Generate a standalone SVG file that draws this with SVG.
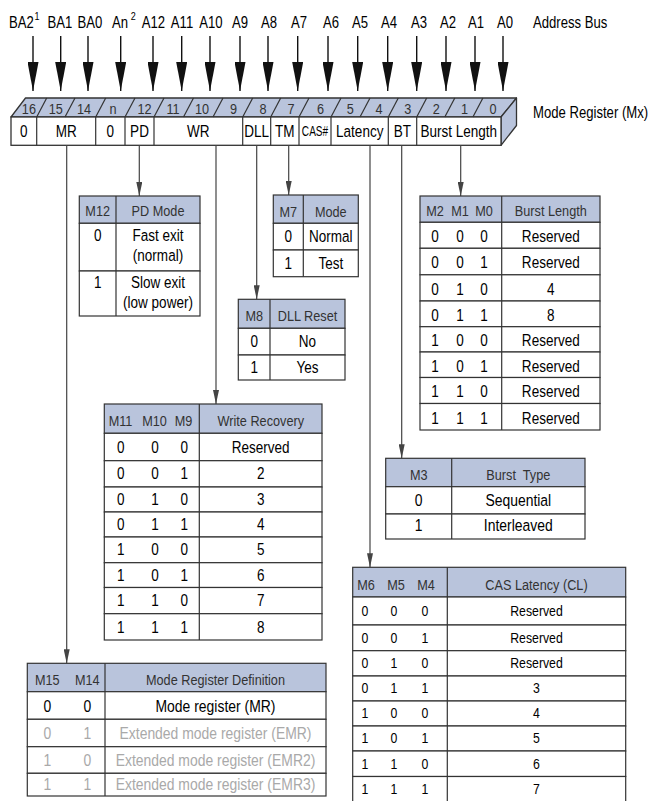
<svg xmlns="http://www.w3.org/2000/svg" width="659" height="801" viewBox="0 0 659 801">
<style>
text{font-family:"Liberation Sans",Arial,sans-serif;text-anchor:middle;transform-box:fill-box;transform-origin:center;transform:scaleX(.82)}
.addr{font-size:16px;fill:#000}
.sup{font-size:11px;fill:#000}
.lbl{font-size:16px;fill:#000;text-anchor:start;transform-origin:left center}
.bit{font-size:15.5px;fill:#333}
.fc{font-size:16.5px;fill:#000}
.cas{font-size:14px;fill:#000;transform:scaleX(.72)}
.h{font-size:15.5px;fill:#333}
.b{font-size:16.5px;fill:#000}
.b17{font-size:17px;fill:#000}
.c15{font-size:15px;fill:#000}
.gr{fill:#a9a9a9}
.hdr{fill:#b9c4dc;stroke:#333;stroke-width:1.2}
.row{fill:#fff;stroke:#333;stroke-width:1.2}
.div{stroke:#333;stroke-width:1.2}
.blue{fill:#b9c4dc;stroke:#333;stroke-width:1.3;stroke-linejoin:round}
.front{fill:#fff;stroke:#333;stroke-width:1.3}
.bus{stroke:#111;stroke-width:1.4;marker-end:url(#big)}
.con{stroke:#444;stroke-width:1.2;fill:none;marker-end:url(#small)}
</style>
<defs>
<marker id="big" markerUnits="userSpaceOnUse" markerWidth="29" markerHeight="11" viewBox="0 0 29 11" refX="29" refY="5.5" orient="auto"><path d="M0,0 L29,5.5 L0,11 z" fill="#111"/></marker>
<marker id="small" markerUnits="userSpaceOnUse" markerWidth="14" markerHeight="6" viewBox="0 0 14 6" refX="14" refY="3" orient="auto"><path d="M0,0 L14,3 L0,6 z" fill="#444"/></marker>
</defs>

<g id="address-bus">
<text class="addr" x="21.5" y="28.3">BA2</text><text class="sup" x="37" y="20.5">1</text>
<text class="addr" x="60" y="28.3">BA1</text>
<text class="addr" x="90" y="28.3">BA0</text>
<text class="addr" x="120" y="28.3">An</text><text class="sup" x="133.3" y="20.5">2</text>
<text class="addr" x="153.5" y="28.3">A12</text>
<text class="addr" x="182" y="28.3">A11</text>
<text class="addr" x="211" y="28.3">A10</text>
<text class="addr" x="240" y="28.3">A9</text>
<text class="addr" x="269" y="28.3">A8</text>
<text class="addr" x="299" y="28.3">A7</text>
<text class="addr" x="331" y="28.3">A6</text>
<text class="addr" x="360" y="28.3">A5</text>
<text class="addr" x="389" y="28.3">A4</text>
<text class="addr" x="419" y="28.3">A3</text>
<text class="addr" x="448" y="28.3">A2</text>
<text class="addr" x="476" y="28.3">A1</text>
<text class="addr" x="505" y="28.3">A0</text>
<text class="lbl" x="533" y="28.3">Address Bus</text>
</g>

<g id="bus-arrows">
<line class="bus" x1="33" y1="36" x2="33" y2="91"/>
<line class="bus" x1="60.7" y1="36" x2="60.7" y2="91"/>
<line class="bus" x1="88" y1="36" x2="88" y2="91"/>
<line class="bus" x1="120.7" y1="36" x2="120.7" y2="91"/>
<line class="bus" x1="153" y1="36" x2="153" y2="91"/>
<line class="bus" x1="181.7" y1="36" x2="181.7" y2="91"/>
<line class="bus" x1="210" y1="36" x2="210" y2="91"/>
<line class="bus" x1="240" y1="36" x2="240" y2="91"/>
<line class="bus" x1="268" y1="36" x2="268" y2="91"/>
<line class="bus" x1="297.7" y1="36" x2="297.7" y2="91"/>
<line class="bus" x1="328" y1="36" x2="328" y2="91"/>
<line class="bus" x1="357.7" y1="36" x2="357.7" y2="91"/>
<line class="bus" x1="387.7" y1="36" x2="387.7" y2="91"/>
<line class="bus" x1="416.7" y1="36" x2="416.7" y2="91"/>
<line class="bus" x1="446" y1="36" x2="446" y2="91"/>
<line class="bus" x1="475" y1="36" x2="475" y2="91"/>
<line class="bus" x1="503" y1="36" x2="503" y2="91"/>
</g>

<g id="mode-register">
<polygon class="blue" points="11,117 25.5,98 516.5,98 501,117"/>
<polygon class="blue" points="501,117 516.5,98 516.5,125.5 501,145.3"/>
<rect class="front" x="11" y="117" width="490" height="28.3"/>
<g class="div">
<line x1="36.7" y1="117" x2="46.7" y2="98"/>
<line x1="65" y1="117" x2="75" y2="98"/>
<line x1="95.7" y1="117" x2="105.7" y2="98"/>
<line x1="125" y1="117" x2="135" y2="98"/>
<line x1="154" y1="117" x2="164" y2="98"/>
<line x1="183.5" y1="117" x2="193.5" y2="98"/>
<line x1="213" y1="117" x2="223" y2="98"/>
<line x1="242.7" y1="117" x2="252.7" y2="98"/>
<line x1="270.7" y1="117" x2="280.7" y2="98"/>
<line x1="299" y1="117" x2="309" y2="98"/>
<line x1="331" y1="117" x2="341" y2="98"/>
<line x1="360" y1="117" x2="370" y2="98"/>
<line x1="388.3" y1="117" x2="398.3" y2="98"/>
<line x1="416.7" y1="117" x2="426.7" y2="98"/>
<line x1="444.8" y1="117" x2="454.8" y2="98"/>
<line x1="472.9" y1="117" x2="482.9" y2="98"/>
<line x1="36.7" y1="117" x2="36.7" y2="145.3"/>
<line x1="95.7" y1="117" x2="95.7" y2="145.3"/>
<line x1="125" y1="117" x2="125" y2="145.3"/>
<line x1="154" y1="117" x2="154" y2="145.3"/>
<line x1="242.7" y1="117" x2="242.7" y2="145.3"/>
<line x1="270.7" y1="117" x2="270.7" y2="145.3"/>
<line x1="299" y1="117" x2="299" y2="145.3"/>
<line x1="331" y1="117" x2="331" y2="145.3"/>
<line x1="388.3" y1="117" x2="388.3" y2="145.3"/>
<line x1="416.7" y1="117" x2="416.7" y2="145.3"/>
</g>
<text class="bit" x="28.9" y="114.5">16</text>
<text class="bit" x="55.8" y="114.5">15</text>
<text class="bit" x="84" y="114.5">14</text>
<text class="bit" x="113" y="114.5">n</text>
<text class="bit" x="144.5" y="114.5">12</text>
<text class="bit" x="173" y="114.5">11</text>
<text class="bit" x="202" y="114.5">10</text>
<text class="bit" x="233.5" y="114.5">9</text>
<text class="bit" x="263" y="114.5">8</text>
<text class="bit" x="291" y="114.5">7</text>
<text class="bit" x="320.5" y="114.5">6</text>
<text class="bit" x="350.3" y="114.5">5</text>
<text class="bit" x="379" y="114.5">4</text>
<text class="bit" x="407.7" y="114.5">3</text>
<text class="bit" x="436.2" y="114.5">2</text>
<text class="bit" x="464.5" y="114.5">1</text>
<text class="bit" x="493" y="114.5">0</text>
<text class="fc" x="23.8" y="137.5">0</text>
<text class="fc" x="66.2" y="137.5">MR</text>
<text class="fc" x="110.3" y="137.5">0</text>
<text class="fc" x="139.5" y="137.5">PD</text>
<text class="fc" x="198.3" y="137.5">WR</text>
<text class="fc" x="256.7" y="137.5">DLL</text>
<text class="fc" x="284.8" y="137.5">TM</text>
<text class="cas" x="315" y="136.5">CAS#</text>
<text class="fc" x="359.7" y="137.5">Latency</text>
<text class="fc" x="402.5" y="137.5">BT</text>
<text class="fc" x="458.8" y="137.5">Burst Length</text>
<text class="lbl" x="533" y="118.5">Mode Register (Mx)</text>
</g>

<g id="connectors">
<line class="con" x1="66.7" y1="145.3" x2="66.7" y2="663.3"/>
<line class="con" x1="139.3" y1="145.3" x2="139.3" y2="196"/>
<line class="con" x1="216" y1="145.3" x2="216" y2="404"/>
<line class="con" x1="256.7" y1="145.3" x2="256.7" y2="299.3"/>
<line class="con" x1="288.7" y1="145.3" x2="288.7" y2="195"/>
<line class="con" x1="370" y1="145.3" x2="370" y2="567.3"/>
<line class="con" x1="401.7" y1="145.3" x2="401.7" y2="458.3"/>
<line class="con" x1="460.7" y1="145.3" x2="460.7" y2="196"/>
</g>

<g id="pd-mode-table">
<rect class="hdr" x="79.3" y="196" width="120.7" height="27.3"/>
<rect class="row" x="79.3" y="223.3" width="120.7" height="47.7"/>
<rect class="row" x="79.3" y="271" width="120.7" height="45"/>
<line class="div" x1="116" y1="196" x2="116" y2="316"/>
<text class="h" x="97.7" y="216.5">M12</text><text class="h" x="158" y="216.5">PD Mode</text>
<text class="b" x="97.7" y="241">0</text><text class="b" x="158" y="241">Fast exit</text><text class="b" x="158" y="261">(normal)</text>
<text class="b" x="97.7" y="288.5">1</text><text class="b" x="158" y="288.5">Slow exit</text><text class="b" x="158" y="308">(low power)</text>
</g>

<g id="tm-table">
<rect class="hdr" x="273.3" y="195" width="85" height="28.3"/>
<rect class="row" x="273.3" y="223.3" width="85" height="26.7"/>
<rect class="row" x="273.3" y="250" width="85" height="26.7"/>
<line class="div" x1="303.3" y1="195" x2="303.3" y2="276.7"/>
<text class="h" x="288.3" y="217">M7</text><text class="h" x="330.8" y="217">Mode</text>
<text class="b" x="288.3" y="242.5">0</text><text class="b" x="330.8" y="242.5">Normal</text>
<text class="b" x="288.3" y="269">1</text><text class="b" x="330.8" y="269">Test</text>
</g>

<g id="dll-table">
<rect class="hdr" x="238.3" y="299.3" width="106.7" height="29"/>
<rect class="row" x="238.3" y="328.3" width="106.7" height="26.7"/>
<rect class="row" x="238.3" y="355" width="106.7" height="25"/>
<line class="div" x1="270" y1="299.3" x2="270" y2="380"/>
<text class="h" x="254.2" y="321.5">M8</text><text class="h" x="307.5" y="321.5">DLL Reset</text>
<text class="b" x="254.2" y="347">0</text><text class="b" x="307.5" y="347">No</text>
<text class="b" x="254.2" y="373">1</text><text class="b" x="307.5" y="373">Yes</text>
</g>

<g id="burst-length-table">
<rect class="hdr" x="420" y="196" width="180" height="26.3"/>
<rect class="row" x="420" y="222.3" width="180" height="26"/>
<rect class="row" x="420" y="248.3" width="180" height="26.5"/>
<rect class="row" x="420" y="274.8" width="180" height="26.2"/>
<rect class="row" x="420" y="301" width="180" height="25.7"/>
<rect class="row" x="420" y="326.7" width="180" height="25.3"/>
<rect class="row" x="420" y="352" width="180" height="25.5"/>
<rect class="row" x="420" y="377.5" width="180" height="26"/>
<rect class="row" x="420" y="403.5" width="180" height="26.5"/>
<line class="div" x1="501.7" y1="196" x2="501.7" y2="430"/>
<text class="h" x="435" y="216">M2</text><text class="h" x="460" y="216">M1</text><text class="h" x="484" y="216">M0</text><text class="h" x="550.8" y="216">Burst Length</text>
<g class="b">
<text x="435" y="242.3">0</text><text x="460" y="242.3">0</text><text x="484" y="242.3">0</text><text x="550.8" y="242.3">Reserved</text>
<text x="435" y="268.5">0</text><text x="460" y="268.5">0</text><text x="484" y="268.5">1</text><text x="550.8" y="268.5">Reserved</text>
<text x="435" y="295">0</text><text x="460" y="295">1</text><text x="484" y="295">0</text><text x="550.8" y="295">4</text>
<text x="435" y="321">0</text><text x="460" y="321">1</text><text x="484" y="321">1</text><text x="550.8" y="321">8</text>
<text x="435" y="346.5">1</text><text x="460" y="346.5">0</text><text x="484" y="346.5">0</text><text x="550.8" y="346.5">Reserved</text>
<text x="435" y="372">1</text><text x="460" y="372">0</text><text x="484" y="372">1</text><text x="550.8" y="372">Reserved</text>
<text x="435" y="397.5">1</text><text x="460" y="397.5">1</text><text x="484" y="397.5">0</text><text x="550.8" y="397.5">Reserved</text>
<text x="435" y="424">1</text><text x="460" y="424">1</text><text x="484" y="424">1</text><text x="550.8" y="424">Reserved</text>
</g>
</g>

<g id="write-recovery-table">
<rect class="hdr" x="104.3" y="404" width="217.7" height="29.3"/>
<rect class="row" x="104.3" y="433.3" width="217.7" height="27.4"/>
<rect class="row" x="104.3" y="460.7" width="217.7" height="26.3"/>
<rect class="row" x="104.3" y="487" width="217.7" height="25"/>
<rect class="row" x="104.3" y="512" width="217.7" height="25"/>
<rect class="row" x="104.3" y="537" width="217.7" height="25.7"/>
<rect class="row" x="104.3" y="562.7" width="217.7" height="24.8"/>
<rect class="row" x="104.3" y="587.5" width="217.7" height="26.2"/>
<rect class="row" x="104.3" y="613.7" width="217.7" height="26.3"/>
<line class="div" x1="199.3" y1="404" x2="199.3" y2="640"/>
<text class="h" x="120.5" y="426.5">M11</text><text class="h" x="154.5" y="426.5">M10</text><text class="h" x="183.5" y="426.5">M9</text><text class="h" x="260.7" y="426.5">Write Recovery</text>
<g class="b">
<text x="120.7" y="453">0</text><text x="155" y="453">0</text><text x="184.3" y="453">0</text><text x="260.7" y="453">Reserved</text>
<text x="120.7" y="479.5">0</text><text x="155" y="479.5">0</text><text x="184.3" y="479.5">1</text><text x="260.7" y="479.5">2</text>
<text x="120.7" y="505">0</text><text x="155" y="505">1</text><text x="184.3" y="505">0</text><text x="260.7" y="505">3</text>
<text x="120.7" y="530">0</text><text x="155" y="530">1</text><text x="184.3" y="530">1</text><text x="260.7" y="530">4</text>
<text x="120.7" y="555.5">1</text><text x="155" y="555.5">0</text><text x="184.3" y="555.5">0</text><text x="260.7" y="555.5">5</text>
<text x="120.7" y="581">1</text><text x="155" y="581">0</text><text x="184.3" y="581">1</text><text x="260.7" y="581">6</text>
<text x="120.7" y="606.5">1</text><text x="155" y="606.5">1</text><text x="184.3" y="606.5">0</text><text x="260.7" y="606.5">7</text>
<text x="120.7" y="633">1</text><text x="155" y="633">1</text><text x="184.3" y="633">1</text><text x="260.7" y="633">8</text>
</g>
</g>

<g id="burst-type-table">
<rect class="hdr" x="385.7" y="458.3" width="199.3" height="28.4"/>
<rect class="row" x="385.7" y="486.7" width="199.3" height="27.3"/>
<rect class="row" x="385.7" y="514" width="199.3" height="25"/>
<line class="div" x1="451.7" y1="458.3" x2="451.7" y2="539"/>
<text class="h" x="418.7" y="480">M3</text><text class="h" x="518.3" y="480" xml:space="preserve">Burst  Type</text>
<text class="b17" x="418.7" y="506">0</text><text class="b17" x="518.3" y="506">Sequential</text>
<text class="b17" x="418.7" y="531.5">1</text><text class="b17" x="518.3" y="531.5">Interleaved</text>
</g>

<g id="cas-latency-table">
<rect class="hdr" x="352.7" y="567.3" width="273" height="29.7"/>
<rect class="row" x="352.7" y="597" width="273" height="28"/>
<rect class="row" x="352.7" y="625" width="273" height="25.7"/>
<rect class="row" x="352.7" y="650.7" width="273" height="25.3"/>
<rect class="row" x="352.7" y="676" width="273" height="25"/>
<rect class="row" x="352.7" y="701" width="273" height="25"/>
<rect class="row" x="352.7" y="726" width="273" height="25"/>
<rect class="row" x="352.7" y="751" width="273" height="25.5"/>
<rect class="row" x="352.7" y="776.5" width="273" height="25.5"/>
<line class="div" x1="447.3" y1="567.3" x2="447.3" y2="802"/>
<text class="h" x="366" y="590">M6</text><text class="h" x="396" y="590">M5</text><text class="h" x="426" y="590">M4</text><text class="h" x="536.5" y="590">CAS Latency (CL)</text>
<g class="c15">
<text x="365" y="616.5">0</text><text x="394" y="616.5">0</text><text x="425" y="616.5">0</text><text x="536.5" y="616.5">Reserved</text>
<text x="365" y="643">0</text><text x="394" y="643">0</text><text x="425" y="643">1</text><text x="536.5" y="643">Reserved</text>
<text x="365" y="668.5">0</text><text x="394" y="668.5">1</text><text x="425" y="668.5">0</text><text x="536.5" y="668.5">Reserved</text>
<text x="365" y="693.5">0</text><text x="394" y="693.5">1</text><text x="425" y="693.5">1</text><text x="536.5" y="693.5">3</text>
<text x="365" y="718.5">1</text><text x="394" y="718.5">0</text><text x="425" y="718.5">0</text><text x="536.5" y="718.5">4</text>
<text x="365" y="743.5">1</text><text x="394" y="743.5">0</text><text x="425" y="743.5">1</text><text x="536.5" y="743.5">5</text>
<text x="365" y="769">1</text><text x="394" y="769">1</text><text x="425" y="769">0</text><text x="536.5" y="769">6</text>
<text x="365" y="794.5">1</text><text x="394" y="794.5">1</text><text x="425" y="794.5">1</text><text x="536.5" y="794.5">7</text>
</g>
</g>

<g id="mode-register-definition-table">
<rect class="hdr" x="27.3" y="663.3" width="298.7" height="28.4"/>
<rect class="row" x="27.3" y="691.7" width="298.7" height="27.6"/>
<rect class="row" x="27.3" y="719.3" width="298.7" height="27.4"/>
<rect class="row" x="27.3" y="746.7" width="298.7" height="26.6"/>
<rect class="row" x="27.3" y="773.3" width="298.7" height="22.7"/>
<line class="div" x1="105" y1="663.3" x2="105" y2="796"/>
<text class="h" x="47.3" y="685">M15</text><text class="h" x="87.3" y="685">M14</text><text class="h" x="215.5" y="685">Mode Register Definition</text>
<text class="b17" x="47.3" y="712.5">0</text><text class="b17" x="87.3" y="712.5">0</text><text class="b17" x="215.5" y="712.5">Mode register (MR)</text>
<g class="b17 gr">
<text class="gr" x="47.3" y="739.5">0</text><text class="gr" x="87.3" y="739.5">1</text><text class="gr" x="215.5" y="739.5">Extended mode register (EMR)</text>
<text class="gr" x="47.3" y="766.5">1</text><text class="gr" x="87.3" y="766.5">0</text><text class="gr" x="215.5" y="766.5">Extended mode register (EMR2)</text>
<text class="gr" x="47.3" y="790.5">1</text><text class="gr" x="87.3" y="790.5">1</text><text class="gr" x="215.5" y="790.5">Extended mode register (EMR3)</text>
</g>
</g>
</svg>
